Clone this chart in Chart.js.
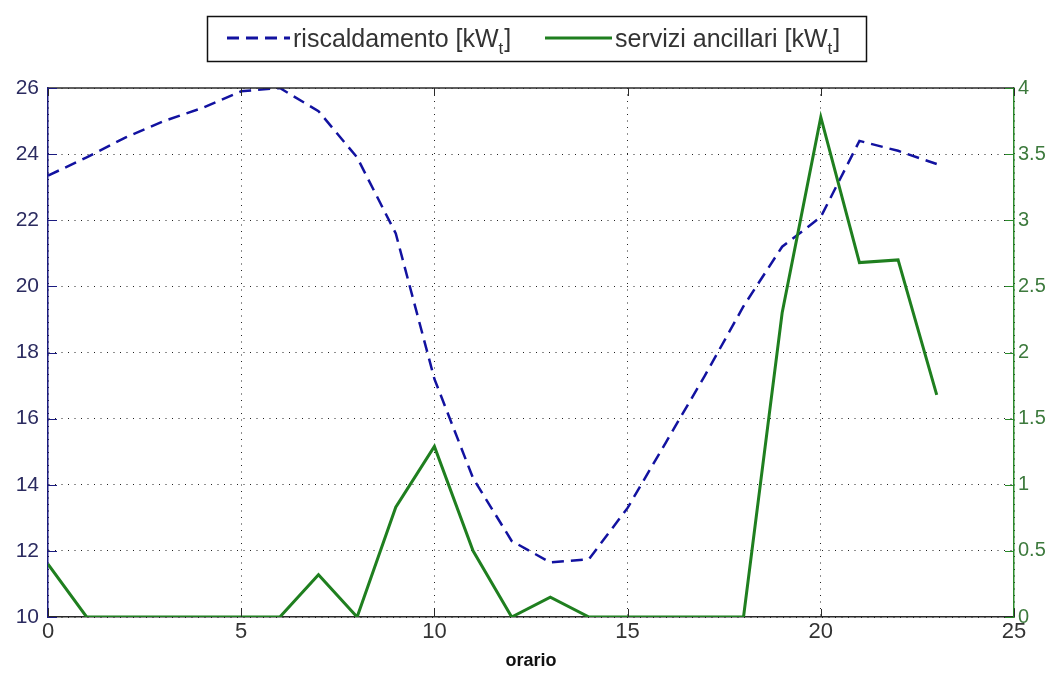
<!DOCTYPE html>
<html>
<head>
<meta charset="utf-8">
<script src="https://cdn.jsdelivr.net/npm/chart.js@4/dist/chart.umd.min.js"></script>
<style>
html, body { margin: 0; padding: 0; background: #fff; }
#wrap { width: 1052px; height: 673px; }
</style>
</head>
<body>
<div id="wrap"><canvas id="chart" width="1052" height="673"></canvas></div>
<script>
// hours of the day
let hours = [0, 1, 2, 3, 4, 5, 6, 7, 8, 9, 10, 11, 12, 13, 14, 15, 16, 17, 18, 19, 20, 21, 22, 23]
// heating [kWt], left axis
let riscaldamento = [23.35, 23.9, 24.5, 25.0, 25.4, 25.9, 26.0, 25.3, 23.9, 21.6, 17.2, 14.2,
    12.3, 11.65, 11.75, 13.3, 15.3, 17.3, 19.4, 21.2, 22.1, 24.4, 24.1, 23.7]
// ancillary services [kWt], right axis
let servizi = [0.4, 0, 0, 0, 0, 0, 0, 0.32, 0, 0.83, 1.29, 0.5,
    0, 0.15, 0, 0, 0, 0, 0, 2.3, 3.78, 2.68, 2.7, 1.68]
let xTicks = [0, 5, 10, 15, 20, 25]
let leftTicks = [10, 12, 14, 16, 18, 20, 22, 24, 26]
let rightTicks = [0, 0.5, 1, 1.5, 2, 2.5, 3, 3.5, 4]
let legendLabels = ['riscaldamento [kW', 'servizi ancillari [kW']

let blue = '#1212a0'
let green = '#1f7f1f'
let narrow = "'Liberation Sans Narrow', 'Arial Narrow', 'Liberation Sans', Arial, sans-serif"

function toPoints(ys) {
    return hours.map((h, i) => ({x: h, y: ys[i]}))
}

// matlab style box: top border + inward ticks
const boxPlugin = {
    id: 'boxPlugin',
    afterDatasetsDraw(chart) {
        const ctx = chart.ctx
        const a = chart.chartArea
        const sx = chart.scales.x, sl = chart.scales.y, sr = chart.scales.y1
        ctx.save()
        ctx.lineWidth = 1.5
        ctx.strokeStyle = '#2a2a2a'
        ctx.beginPath()
        ctx.moveTo(a.left, a.top)
        ctx.lineTo(a.right, a.top)
        ctx.stroke()
        ctx.lineWidth = 1
        xTicks.forEach((v) => {
            const px = Math.round(sx.getPixelForValue(v)) + 0.5
            ctx.beginPath()
            ctx.moveTo(px, a.bottom); ctx.lineTo(px, a.bottom - 8)
            ctx.moveTo(px, a.top); ctx.lineTo(px, a.top + 8)
            ctx.stroke()
        })
        ctx.strokeStyle = '#1b1b80'
        leftTicks.forEach((v) => {
            const py = Math.round(sl.getPixelForValue(v)) + 0.5
            ctx.beginPath()
            ctx.moveTo(a.left, py); ctx.lineTo(a.left + 9, py)
            ctx.stroke()
        })
        ctx.strokeStyle = '#2a8a2a'
        rightTicks.forEach((v) => {
            const py = Math.round(sr.getPixelForValue(v)) + 0.5
            ctx.beginPath()
            ctx.moveTo(a.right, py); ctx.lineTo(a.right - 9, py)
            ctx.stroke()
        })
        ctx.restore()
    }
}

// boxed legend with subscript t
const legendPlugin = {
    id: 'legendPlugin',
    afterDraw(chart) {
        const ctx = chart.ctx
        ctx.save()
        ctx.fillStyle = '#fff'
        ctx.fillRect(207, 16, 659, 45)
        ctx.strokeStyle = '#111'
        ctx.lineWidth = 1.5
        ctx.strokeRect(207.5, 16.5, 659, 45)
        const items = [
            {x: 227, w: 63, color: blue, dash: [12, 7], width: 3, text: legendLabels[0]},
            {x: 545, w: 67, color: green, dash: [], width: 3, text: legendLabels[1]}
        ]
        items.forEach((it) => {
            ctx.strokeStyle = it.color
            ctx.lineWidth = it.width
            ctx.setLineDash(it.dash)
            ctx.beginPath()
            ctx.moveTo(it.x, 38)
            ctx.lineTo(it.x + it.w, 38)
            ctx.stroke()
            ctx.setLineDash([])
            ctx.fillStyle = '#333'
            ctx.textBaseline = 'alphabetic'
            ctx.font = '25px ' + narrow
            let tx = it.x + it.w + 3
            ctx.fillText(it.text, tx, 47)
            tx += ctx.measureText(it.text).width
            ctx.font = '17px ' + narrow
            ctx.fillText('t', tx, 54)
            tx += ctx.measureText('t').width + 1
            ctx.font = '25px ' + narrow
            ctx.fillText(']', tx, 47)
        })
        ctx.restore()
    }
}

new Chart(document.getElementById('chart').getContext('2d'), {
    type: 'line',
    data: {
        datasets: [{
            label: legendLabels[0] + 't]',
            data: toPoints(riscaldamento),
            yAxisID: 'y',
            borderColor: blue,
            backgroundColor: blue,
            borderWidth: 2.5,
            borderDash: [12, 7],
            pointRadius: 0,
            fill: false,
            order: 1
        }, {
            label: legendLabels[1] + 't]',
            data: toPoints(servizi),
            yAxisID: 'y1',
            borderColor: green,
            backgroundColor: green,
            borderWidth: 3,
            pointRadius: 0,
            fill: false,
            order: 0
        }]
    },
    options: {
        responsive: false,
        animation: false,
        devicePixelRatio: 1,
        layout: {padding: {top: 88, left: 0, right: 0, bottom: 0}},
        plugins: {
            legend: {display: false},
            tooltip: {enabled: false}
        },
        scales: {
            x: {
                type: 'linear',
                min: 0,
                max: 25,
                afterBuildTicks: (s) => { s.ticks = xTicks.map((v) => ({value: v})) },
                afterFit: (s) => { s.height = 56 },
                ticks: {color: '#333', font: {size: 22, family: narrow}, padding: 2, maxRotation: 0,
                    callback: (v) => String(v)},
                grid: {color: '#222', lineWidth: 1, drawTicks: false},
                border: {color: '#2a2a2a', width: 1.5, dash: [1, 5.5]},
                title: {display: true, text: 'orario', color: '#111', font: {size: 18, weight: 'bold', family: 'Liberation Sans, Arial, sans-serif'}, padding: {top: 0, bottom: 1}}
            },
            y: {
                position: 'left',
                min: 10,
                max: 26,
                afterBuildTicks: (s) => { s.ticks = leftTicks.map((v) => ({value: v})) },
                afterFit: (s) => { s.width = 48 },
                ticks: {color: '#2b2b60', font: {size: 21, family: 'Liberation Sans, Arial, sans-serif'}, padding: 9,
                    callback: (v) => String(v)},
                grid: {color: '#222', lineWidth: 1, drawTicks: false},
                border: {color: '#1b1b80', width: 1.5, dash: [1, 5.5]}
            },
            y1: {
                position: 'right',
                min: 0,
                max: 4,
                afterBuildTicks: (s) => { s.ticks = rightTicks.map((v) => ({value: v})) },
                afterFit: (s) => { s.width = 38 },
                ticks: {color: '#3d7a3d', font: {size: 20, family: 'Liberation Sans, Arial, sans-serif'}, padding: 4,
                    callback: (v) => String(v)},
                grid: {drawOnChartArea: false, drawTicks: false},
                border: {color: '#2a8a2a', width: 1.5}
            }
        }
    },
    plugins: [boxPlugin, legendPlugin]
});
</script>
</body>
</html>
